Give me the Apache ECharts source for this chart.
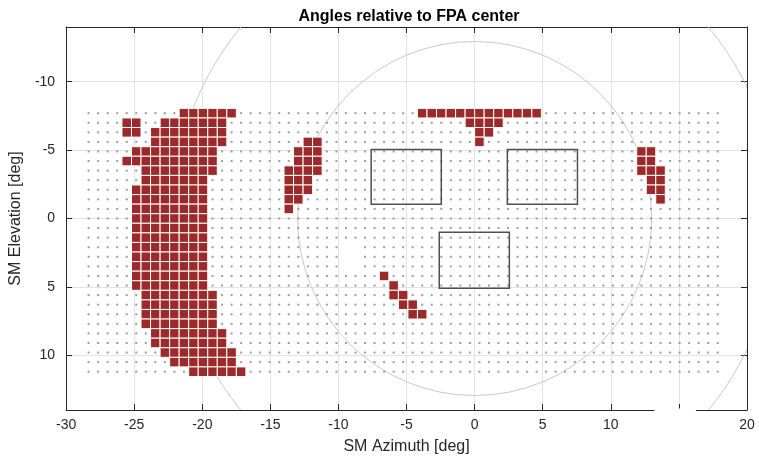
<!DOCTYPE html>
<html>
<head>
<meta charset="utf-8">
<script src="https://cdn.jsdelivr.net/npm/echarts@6/dist/echarts.min.js"></script>
<style>
  html, body { margin: 0; padding: 0; background: #ffffff; }
  #chart { width: 759px; height: 460px; }
</style>
</head>
<body>
<div id="chart"></div>
<script>
// Sampling grid of pointing directions, degrees
const azimuthSamples = [
  -28.35, -27.65, -26.95, -26.25, -25.55, -24.85, -24.15, -23.45, -22.75, -22.05,
  -21.35, -20.65, -19.95, -19.25, -18.55, -17.85, -17.15, -16.45, -15.75, -15.05,
  -14.35, -13.65, -12.95, -12.25, -11.55, -10.85, -10.15, -9.45, -8.75, -8.05,
  -7.35, -6.65, -5.95, -5.25, -4.55, -3.85, -3.15, -2.45, -1.75, -1.05,
  -0.35, 0.35, 1.05, 1.75, 2.45, 3.15, 3.85, 4.55, 5.25, 5.95,
  6.65, 7.35, 8.05, 8.75, 9.45, 10.15, 10.85, 11.55, 12.25, 12.95,
  13.65, 14.35, 15.05, 15.75, 16.45, 17.15, 17.85
];
const elevationSamples = [
  -7.7, -7.0, -6.3, -5.6, -4.9, -4.2, -3.5, -2.8, -2.1, -1.4,
  -0.7, 0.0, 0.7, 1.4, 2.1, 2.8, 3.5, 4.2, 4.9, 5.6,
  6.3, 7.0, 7.7, 8.4, 9.1, 9.8, 10.5, 11.2
];
// Spacing of the sampling grid; a flagged sample fills one grid cell
const sampleSpacing = 0.7;

// Flagged samples, as runs along azimuth: [elevation, azimuth from, azimuth to]
const flaggedRuns = [
  // left region
  [-7.7, -21.35, -17.85],
  [-7.0, -25.55, -24.85], [-7.0, -22.75, -18.55],
  [-6.3, -25.55, -24.85], [-6.3, -23.45, -18.55],
  [-5.6, -23.45, -18.55],
  [-4.9, -24.85, -19.25],
  [-4.2, -25.55, -19.25],
  [-3.5, -24.15, -19.25],
  [-2.8, -24.15, -19.95],
  [-2.1, -24.85, -19.95], [-1.4, -24.85, -19.95], [-0.7, -24.85, -19.95],
  [0.0, -24.85, -19.95], [0.7, -24.85, -19.95], [1.4, -24.85, -19.95],
  [2.1, -24.85, -19.95], [2.8, -24.85, -19.95], [3.5, -24.85, -19.95],
  [4.2, -24.85, -19.95], [4.9, -24.85, -19.95],
  [5.6, -24.15, -19.25], [6.3, -24.15, -19.25], [7.0, -24.15, -19.25], [7.7, -24.15, -19.25],
  [8.4, -23.45, -18.55], [9.1, -23.45, -18.55],
  [9.8, -22.75, -17.85],
  [10.5, -22.05, -17.85],
  [11.2, -20.65, -17.15],
  // streak left of the detectors
  [-5.6, -12.25, -11.55],
  [-4.9, -12.95, -11.55], [-4.2, -12.95, -11.55],
  [-3.5, -13.65, -11.55],
  [-2.8, -13.65, -12.25], [-2.1, -13.65, -12.25],
  [-1.4, -13.65, -12.95],
  [-0.7, -13.65, -13.65],
  // short diagonal below
  [4.2, -6.65, -6.65],
  [4.9, -5.95, -5.95],
  [5.6, -5.95, -5.25],
  [6.3, -5.25, -4.55],
  [7.0, -4.55, -3.85],
  // top band
  [-7.7, -3.85, 4.55],
  [-7.0, -0.35, 1.75],
  [-6.3, 0.35, 1.05],
  [-5.6, 0.35, 0.35],
  // right patch
  [-4.9, 12.25, 12.95], [-4.2, 12.25, 12.95],
  [-3.5, 12.25, 13.65],
  [-2.8, 12.95, 13.65], [-2.1, 12.95, 13.65],
  [-1.4, 13.65, 13.65]
];

// Samples without a result: [azimuth, elevation]
const missingSamples = [
  [-9.45, 2.1], [-8.75, 2.1],
  [-9.45, 2.8], [-8.75, 2.8],
  [-9.45, 3.5], [-8.75, 3.5]
];

// Detector outlines: [azimuth min, elevation min, azimuth max, elevation max]
const detectorBoxes = [
  [-7.6, -5.05, -2.45, -1.05],
  [2.4, -5.05, 7.55, -1.05],
  [-2.6, 1.0, 2.55, 5.1]
];

// Field-of-view circles: [azimuth centre, elevation centre, radius]
const fovCircles = [
  [0, 0, 13.0],
  [0, 0, 22.2]
];

// Axis ranges and label text
const azimuthRange = [-30, 20];
const elevationRange = [-14, 14];
const titleText = 'Angles relative to FPA center';
const xName = 'SM Azimuth [deg]';
const yName = 'SM Elevation [deg]';

const near = (a, b) => Math.abs(a - b) < 1e-6;

// Build the flagged cells from the runs, picking sample positions on the grid
const flaggedCells = [];
flaggedRuns.forEach(([el, from, to]) => {
  azimuthSamples.forEach(az => {
    if (az >= from - 1e-6 && az <= to + 1e-6) flaggedCells.push([az, el]);
  });
});

// Every sample point of the grid, except the ones without a result
const samplePoints = [];
elevationSamples.forEach(el => {
  azimuthSamples.forEach(az => {
    const missing = missingSamples.some(m => near(m[0], az) && near(m[1], el));
    if (!missing) samplePoints.push([az, el]);
  });
});

const FONT = '"Liberation Sans", Arial, Helvetica, sans-serif';
const INK = '#262626';
const GRID = '#e2e2e2';

const chart = echarts.init(document.getElementById('chart'), null, { renderer: 'canvas' });

const plotClip = params => ({
  type: 'rect',
  shape: { x: params.coordSys.x, y: params.coordSys.y, width: params.coordSys.width, height: params.coordSys.height }
});

chart.setOption({
  animation: false,
  backgroundColor: '#ffffff',
  title: {
    text: titleText,
    left: 404, textAlign: 'center',
    top: 4,
    textStyle: { fontFamily: FONT, fontSize: 16, fontWeight: 'bold', color: '#000000' }
  },
  grid: { left: 61, top: 27, width: 686, height: 384, containLabel: false },
  xAxis: [
    {
      type: 'value', min: azimuthRange[0], max: azimuthRange[1], interval: 5,
      position: 'bottom',
      name: xName, nameLocation: 'middle', nameGap: 29,
      nameTextStyle: { fontFamily: FONT, fontSize: 16, color: INK },
      axisLine: { show: true, onZero: false, lineStyle: { color: INK, width: 1 } },
      axisTick: { show: true, inside: true, length: 6, lineStyle: { color: INK } },
      axisLabel: { fontFamily: FONT, fontSize: 14, color: INK, margin: 8 },
      splitLine: { show: true, lineStyle: { color: GRID, width: 1 } }
    },
    {
      type: 'value', min: azimuthRange[0], max: azimuthRange[1], interval: 5,
      position: 'top',
      axisLine: { show: true, onZero: false, lineStyle: { color: INK, width: 1 } },
      axisTick: { show: true, inside: true, length: 6, lineStyle: { color: INK } },
      axisLabel: { show: false },
      splitLine: { show: false }
    }
  ],
  yAxis: [
    {
      type: 'value', min: elevationRange[0], max: elevationRange[1], inverse: true,
      splitNumber: 5,
      position: 'left',
      name: yName, nameLocation: 'middle', nameGap: 31, nameRotate: 90,
      nameTextStyle: { fontFamily: FONT, fontSize: 16, color: INK },
      axisLine: { show: true, onZero: false, lineStyle: { color: INK, width: 1 } },
      axisTick: { show: true, inside: true, length: 6, lineStyle: { color: INK } },
      axisLabel: { fontFamily: FONT, fontSize: 14, color: INK, margin: 11, showMinLabel: false, showMaxLabel: false },
      splitLine: { show: true, lineStyle: { color: GRID, width: 1 } }
    },
    {
      type: 'value', min: elevationRange[0], max: elevationRange[1], inverse: true,
      splitNumber: 5,
      position: 'right',
      axisLine: { show: true, onZero: false, lineStyle: { color: INK, width: 1 } },
      axisTick: { show: true, inside: true, length: 6, lineStyle: { color: INK } },
      axisLabel: { show: false },
      splitLine: { show: false }
    }
  ],
  series: [
    {
      // field-of-view circles, clipped to the plot area
      type: 'custom', name: 'fov', z: 1, silent: true,
      data: fovCircles, encode: { x: 0, y: 1 },
      renderItem(params, api) {
        const c = api.coord([api.value(0), api.value(1)]);
        const r = api.size([api.value(2) * 2, 0], [api.value(0), api.value(1)])[0] / 2;
        return {
          type: 'circle',
          shape: { cx: c[0], cy: c[1], r: r },
          style: { fill: 'none', stroke: '#c9c9c9', lineWidth: 1 },
          clipPath: plotClip(params)
        };
      }
    },
    {
      // sample grid
      type: 'scatter', name: 'samples', z: 2, silent: true,
      data: samplePoints,
      symbol: 'rect', symbolSize: 2,
      itemStyle: { color: '#858585' }
    },
    {
      // flagged samples as filled grid cells
      type: 'custom', name: 'flagged', z: 3, silent: true,
      data: flaggedCells, encode: { x: 0, y: 1 },
      renderItem(params, api) {
        const p = api.coord([api.value(0), api.value(1)]);
        const s = api.size([sampleSpacing, sampleSpacing], [api.value(0), api.value(1)]);
        return {
          type: 'rect',
          shape: { x: p[0] - s[0] / 2, y: p[1] - s[1] / 2, width: s[0], height: s[1] },
          style: { fill: '#9c2a2b', stroke: '#ffffff', lineWidth: 1 }
        };
      }
    },
    {
      // detector outlines
      type: 'custom', name: 'detectors', z: 4, silent: true,
      data: detectorBoxes, encode: { x: [0, 2], y: [1, 3] },
      renderItem(params, api) {
        const a = api.coord([api.value(0), api.value(1)]);
        const b = api.coord([api.value(2), api.value(3)]);
        return {
          type: 'rect',
          shape: {
            x: Math.min(a[0], b[0]), y: Math.min(a[1], b[1]),
            width: Math.abs(b[0] - a[0]), height: Math.abs(b[1] - a[1])
          },
          style: { fill: 'none', stroke: '#505050', lineWidth: 1.5 }
        };
      }
    }
  ]
});

// White patch over the bottom axis between 13.2 and 16.25 deg azimuth
const patchA = chart.convertToPixel({ xAxisIndex: 0, yAxisIndex: 0 }, [13.2, elevationRange[1]]);
const patchB = chart.convertToPixel({ xAxisIndex: 0, yAxisIndex: 0 }, [16.25, elevationRange[1]]);
chart.setOption({
  graphic: [{
    type: 'rect', z: 100, silent: true,
    shape: { x: patchA[0], y: patchA[1] - 1.5, width: patchB[0] - patchA[0], height: 32 },
    style: { fill: '#ffffff' }
  }]
});
</script>
</body>
</html>
